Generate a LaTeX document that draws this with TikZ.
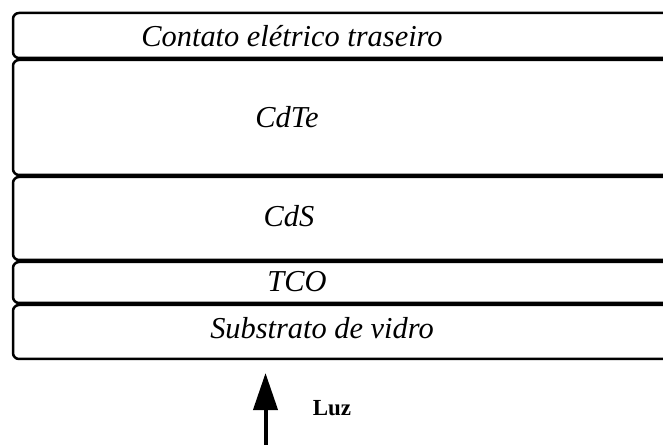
\documentclass[tikz,border=0pt]{standalone}
\usepackage{fontspec}
\setmainfont{Liberation Serif}
\usetikzlibrary{arrows.meta}

\begin{document}
\begin{tikzpicture}[x=1pt,y=1pt]
\tikzstyle{layer}=[draw,line width=2.5pt,rounded corners=6pt]
\tikzstyle{every node}=[anchor=base,inner sep=0pt,font=\fontsize{30.4}{34}\selectfont\itshape]
\clip (0,0) rectangle (663,444);
\draw [layer] (13,431) rectangle (690,386);
\draw [layer] (13,384) rectangle (690,269);
\draw [layer] (13,267) rectangle (690,184);
\draw [layer] (13,182) rectangle (690,141);
\draw [layer] (13,139) rectangle (690,85);
\node (contato) at (292,397) {Contato elétrico traseiro};
\node (cdte) at (287,316) {CdTe};
\node (cds) at (289,217) {CdS};
\node (tco) at (297,152) {TCO};
\node (vidro) at (322,105) {Substrato de vidro};
\coordinate (luzfonte) at (265.5,-2);
\coordinate (luzalvo) at (265.5,71);
\draw [line width=4pt,-{Triangle[length=37pt,width=24pt]}] (luzfonte) -- (luzalvo);
\node (luz) at (332,29) [font=\fontsize{23}{26}\selectfont\bfseries] {Luz};
\end{tikzpicture}
\end{document}
